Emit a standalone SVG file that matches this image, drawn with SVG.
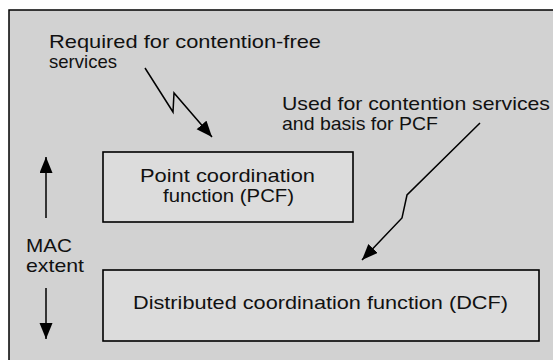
<svg xmlns="http://www.w3.org/2000/svg" width="553" height="360" viewBox="0 0 553 360">
  <defs>
    <marker id="ah" markerUnits="userSpaceOnUse" markerWidth="17" markerHeight="14" refX="16" refY="6.5" orient="auto">
      <path d="M0,0 L16,6.5 L0,13 z" fill="#000"/>
    </marker>
  </defs>
  <style>
    text { font-family: "Liberation Sans", Arial, sans-serif; font-size: 19px; fill: #111; }
    .box { fill: #dcdcdc; stroke: #000; stroke-width: 1.6; }
    .conn { fill: none; stroke: #000; stroke-width: 1.5; marker-end: url(#ah); }
  </style>
  <rect x="0" y="0" width="553" height="360" fill="#ffffff"/>
  <rect x="9" y="10" width="560" height="360" fill="#d2d2d2" stroke="#000" stroke-width="1.5"/>

  <g id="label-required">
    <text x="49" y="48" textLength="272" lengthAdjust="spacingAndGlyphs">Required for contention-free</text>
    <text x="49" y="68" textLength="68" lengthAdjust="spacingAndGlyphs">services</text>
  </g>
  <g id="label-used">
    <text x="282" y="110" textLength="268" lengthAdjust="spacingAndGlyphs">Used for contention services</text>
    <text x="282" y="130" textLength="156" lengthAdjust="spacingAndGlyphs">and basis for PCF</text>
  </g>
  <g id="pcf">
    <rect class="box" x="103" y="152" width="250" height="70"/>
    <text x="140" y="182" textLength="175" lengthAdjust="spacingAndGlyphs">Point coordination</text>
    <text x="163" y="202" textLength="131" lengthAdjust="spacingAndGlyphs">function (PCF)</text>
  </g>
  <g id="dcf">
    <rect class="box" x="103" y="270" width="436" height="71"/>
    <text x="133" y="309" textLength="375" lengthAdjust="spacingAndGlyphs">Distributed coordination function (DCF)</text>
  </g>
  <g id="mac-extent">
    <text x="26" y="252" textLength="46" lengthAdjust="spacingAndGlyphs">MAC</text>
    <text x="26" y="272" textLength="58" lengthAdjust="spacingAndGlyphs">extent</text>
  </g>

  <g id="connectors">
    <polyline class="conn" points="145,68 173,112 174,93 212,137"/>
    <polyline class="conn" points="480,123 407,195 402,218 362,260"/>
    <line class="conn" x1="46" y1="218" x2="46" y2="157"/>
    <line class="conn" x1="46" y1="288" x2="46" y2="339"/>
  </g>
</svg>
